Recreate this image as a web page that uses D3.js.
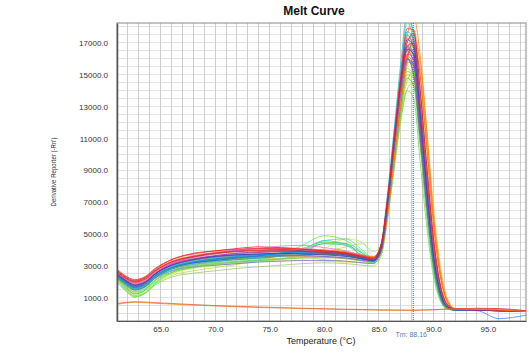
<!DOCTYPE html>
<html>
<head>
<meta charset="utf-8">
<script src="https://cdn.jsdelivr.net/npm/d3@7/dist/d3.min.js"></script>
<style>
  html, body { margin: 0; padding: 0; background: #fff; }
  svg { display: block; }
  text { font-family: "Liberation Sans", Arial, sans-serif; }
</style>
</head>
<body>
<svg id="chart" width="529" height="356"></svg>
<script>
// Temperatures (°C) at which each well's derivative reporter was sampled
const temps = [61, 62, 62.6, 63.6, 64.5, 66, 68, 70, 72, 74, 76, 78, 80, 82, 83.5, 84.5,
               85.2, 85.8, 86.4, 87, 87.6, 88.2, 88.8, 89.4, 90, 90.6, 91.2, 92, 94, 96, 98.5];

// Derivative reporter (-Rn') per well
const g1  = [2200,1500,1250,1500,2100,2700,3050,3250,3400,3500,3650,4100,4500,4400,3600,3300,3900,6300,9600,12600,14800,14300,10500,6200,2800,1000,350,230,220,200,150];
const g2  = [2000,1300,1050,1300,1900,2600,3000,3200,3300,3400,3700,4300,4900,4600,3800,3350,3700,6000,9200,12200,14000,13500,9500,5500,2400,900,320,220,210,200,160];
const g3  = [2100,1400,1150,1350,1950,2550,2900,3050,3150,3250,3400,3550,3900,4200,4400,3900,4300,6800,10000,13000,15200,15000,11000,6600,3000,1100,380,240,220,200,150];
const g4  = [2300,1700,1500,1700,2250,2850,3200,3400,3550,3600,3700,3800,3850,3700,3450,3350,4100,6900,10500,13800,16000,15500,11500,7000,3200,1200,400,240,220,200,150];
const g5  = [2250,1600,1350,1550,2100,2600,2900,3100,3250,3350,3450,3500,3550,3450,3300,3200,3800,6200,9500,12800,15000,14800,11000,6800,3100,1150,380,240,220,200,150];
const g6  = [2400,1800,1550,1750,2300,2900,3250,3450,3600,3700,3800,4000,4400,4300,3800,3400,4000,6600,10200,13600,15800,15600,11600,7100,3300,1200,400,240,220,200,150];
const g7  = [2150,1450,1100,1300,1850,2400,2700,2900,3100,3350,3500,3550,3400,3300,3200,3150,3700,6100,9300,12400,14600,15200,12200,7800,3800,1500,500,260,230,200,150];
const g8  = [2350,1750,1500,1700,2250,2800,3150,3350,3450,3550,3650,3700,3750,3650,3450,3350,4000,6700,10400,13900,16600,16300,11900,7200,3200,1150,380,240,220,200,150];
const g9  = [2300,1650,1400,1600,2150,2700,3000,3150,3250,3350,3450,3700,4600,4700,4000,3500,4200,7000,10700,14000,16000,15200,10800,6400,2900,1050,360,230,220,200,150];
const g10 = [2050,1350,1100,1300,1800,2300,2550,2700,2850,2950,3050,3150,3200,3150,3050,3000,3600,5900,9000,12000,14100,14500,11200,7000,3300,1250,420,250,220,200,150];
const y1  = [2450,1900,1700,1900,2400,2800,3050,3150,3250,3300,3350,3350,3300,3250,3200,3150,3800,6500,10000,13300,16000,16800,13800,9200,4800,2000,700,280,230,200,150];
const y2  = [2500,2000,1800,2000,2500,3050,3400,3600,3750,3850,3900,3950,3900,3800,3600,3500,4000,6400,9800,13200,15900,17200,14800,10200,5600,2500,900,300,230,200,150];
const o1  = [2600,2100,1950,2150,2650,3200,3550,3750,3900,4000,4050,4050,4000,3900,3650,3550,4100,6500,9900,13400,16300,17800,15500,11000,6200,2800,1000,320,240,210,160];
const o2  = [2550,2050,1900,2100,2550,3000,3250,3400,3500,3550,3600,3600,3550,3500,3400,3350,3800,6100,9400,12800,15600,17300,15800,11600,6800,3200,1150,340,240,210,160];
const o3  = [2700,2200,2050,2250,2750,3300,3650,3850,3950,4000,4050,4050,4000,3900,3700,3600,4300,7000,10600,14300,17400,18600,16200,11500,6300,2800,950,310,240,210,160];
const r1  = [2750,2250,2100,2300,2800,3400,3800,3950,4100,4200,4150,4050,3950,3800,3600,3500,4300,7100,10800,14400,17000,17600,14000,9300,4900,2000,700,300,350,330,200];
const r2  = [2650,2150,2000,2200,2700,3250,3600,3800,3900,3950,3950,3900,3850,3750,3550,3450,4200,7000,10700,14200,16800,17000,13200,8600,4400,1800,620,290,240,210,160];
const r3  = [2600,2100,1950,2150,2600,3100,3400,3550,3650,3700,3700,3650,3600,3500,3350,3300,4000,6700,10300,13700,16200,16600,13000,8500,4300,1750,600,280,240,210,160];
const m1  = [2700,2200,2050,2250,2700,3250,3600,3800,3950,4000,4000,3950,3900,3800,3550,3450,4300,7200,11000,14600,16500,15800,12000,7700,3800,1500,520,270,230,200,150];
const m2  = [2600,2100,1900,2100,2600,3150,3500,3750,3950,4100,4250,4300,4150,3950,3650,3450,4200,7000,10600,14000,16800,16900,12800,8200,4100,1650,560,280,240,210,160];
const m3  = [2500,2000,1800,2000,2500,3050,3400,3650,3800,3900,3950,3950,3900,3750,3500,3400,4150,6900,10500,14100,16300,16000,12200,7900,3900,1550,530,270,230,200,150];
const p1  = [2550,2050,1850,2050,2550,3100,3450,3650,3800,3850,3900,3850,3800,3700,3500,3400,4100,6900,10600,14000,16000,15000,11000,6800,3300,1250,430,250,220,200,150];
const p2  = [2450,1950,1750,1950,2500,3150,3550,3800,4000,4100,4050,3950,3800,3700,3500,3400,4200,7100,10900,14500,16700,16200,12000,7500,3600,1400,480,260,230,200,150];
const b1  = [2500,2000,1800,2000,2500,3050,3400,3600,3700,3750,3800,3750,3700,3600,3450,3350,4100,7000,10800,14600,17200,16800,12600,7900,3800,1450,500,260,230,200,150];
const b2  = [2400,1900,1700,1900,2400,2900,3200,3350,3500,3650,3800,3900,3950,3800,3500,3300,4000,6800,10500,14200,16600,16300,12300,7700,3700,1400,480,250,220,200,150];
const b3  = [2350,1850,1650,1850,2350,2900,3250,3450,3550,3600,3650,3650,3600,3500,3350,3250,3900,6600,10200,13700,16000,15700,11800,7300,3500,1300,450,240,200,-300,-80];
const b4  = [2300,1800,1600,1800,2250,2700,2950,3050,3150,3250,3300,3350,3350,3300,3200,3150,3900,6600,10200,13800,16200,15600,11500,7100,3400,1300,450,250,220,200,150];
const c1  = [2400,1850,1600,1800,2350,2950,3300,3500,3650,3700,3800,3850,3900,3800,3550,3400,4300,7500,11500,15600,18800,17500,12500,7600,3500,1300,430,250,220,200,150];
const c2  = [2350,1750,1500,1700,2250,2850,3200,3400,3550,3650,3750,4000,4600,4300,3700,3450,4300,7400,11300,15200,18300,17000,12000,7200,3300,1200,400,240,220,200,150];
const c3  = [2450,1900,1650,1850,2400,3000,3350,3550,3700,3750,3800,3800,3750,3650,3450,3350,4100,7000,10800,14700,17500,16600,12100,7400,3500,1300,440,250,220,200,150];
const k1  = [2650,2150,1950,2150,2650,3200,3600,3850,4000,4100,4150,4100,4000,3850,3600,3450,4200,7100,10900,14500,17300,17100,13000,8300,4100,1600,540,280,240,210,160];
const k2  = [2400,1850,1650,1850,2350,2900,3250,3450,3600,3700,3750,3800,3850,3750,3500,3350,4100,7000,10900,14800,17700,17200,12800,7900,3700,1400,470,250,220,200,150];
const k3  = [2250,1550,1250,1450,2000,2600,2950,3150,3300,3450,3650,3900,4400,4400,3900,3450,4000,6600,10000,13200,15400,15000,11000,6600,3000,1100,370,240,220,200,150];
const k4  = [2600,2100,1950,2150,2650,3150,3450,3600,3700,3750,3800,3800,3750,3650,3450,3350,3900,6300,9700,13100,16000,17000,15000,10600,5900,2600,900,310,240,210,160];
const k5  = [2300,1800,1550,1750,2250,2800,3100,3300,3400,3500,3600,3700,3800,3700,3450,3300,4000,6800,10600,14200,16800,16400,12000,7300,3400,1250,420,250,220,200,150];
const k6  = [2500,1950,1750,1950,2450,3000,3350,3550,3650,3700,3750,3750,3700,3600,3450,3350,4000,6800,10500,14000,16500,16100,12000,7500,3600,1350,460,250,220,200,150];
const k7  = [2200,1450,1150,1350,1900,2500,2850,3050,3200,3300,3450,3650,4100,4700,4500,3600,4000,6500,9900,13000,15200,14900,10900,6500,2900,1050,350,230,220,200,150];
const k8  = [2800,2300,2150,2350,2850,3400,3750,3950,4050,4100,4100,4050,3950,3850,3650,3550,4300,7200,11100,14900,17900,17800,14000,9200,4800,1900,650,300,260,230,170];
// no-template controls
const ntc1 = [650,730,760,740,700,650,580,520,470,430,390,350,320,290,270,260,250,250,240,240,230,230,240,250,260,280,300,330,320,290,180];
const ntc2 = [600,690,720,700,660,610,550,490,440,400,360,330,300,270,250,240,230,230,220,220,220,220,230,240,250,270,290,300,280,250,150];

// Draw order (back to front) and trace colours
const wells  = [g10, k7, g7, g2, k3, g1, y1, g3, b4, g5, g9, o2, g6, c2, g4, k6, g8, y2, k4, o1,
                c3, p1, k5, m3, r3, b2, o3, c1, p2, m2, k2, b3, k1, m1, r2, b1, k8, r1, ntc2, ntc1];
const colors = ["#99cc66","#bbee55","#bbdd33","#66dd44","#66ee99","#33cc33","#dddd44","#99e066","#7b68ee","#88cc22",
                "#66cc99","#e8a33c","#44bb77","#33cccc","#2ca02c","#cc99ff","#55aa33","#ccaa22","#cc6600","#ff9933",
                "#00a0a0","#9933cc","#3399cc","#aa4499","#ff5555","#1f4fd8","#ff7f00","#17becf","#6a3d9a","#e377c2",
                "#0099ff","#3b7dd8","#ff66cc","#cc3366","#d62728","#3333cc","#ff3333","#e41a1c",
                "#e8902a","#e06030"];

const yTicks = [1000, 3000, 5000, 7000, 9000, 11000, 13000, 15000, 17000];
const xTicks = [65, 70, 75, 80, 85, 90, 95];
const tm = 88.16;

const svg = d3.select("#chart");
const plotL = 117, plotR = 526, plotT = 23, plotB = 321;

const x = d3.scaleLinear().domain([61, 98.5]).range([plotL, plotR]);
const y = d3.scaleLinear().domain([-450, 18250]).range([plotB, plotT]);

// grid
const grid = svg.append("g");
grid.selectAll("line.h").data(d3.range(0, 18001, 500)).join("line")
  .attr("x1", plotL).attr("x2", plotR)
  .attr("y1", d => y(d)).attr("y2", d => y(d))
  .attr("stroke", "#e3e3e3").attr("stroke-width", 1).attr("shape-rendering", "crispEdges");
grid.selectAll("line.v").data(d3.range(62, 99, 1)).join("line")
  .attr("y1", plotT).attr("y2", plotB)
  .attr("x1", d => x(d)).attr("x2", d => x(d))
  .attr("stroke", "#cdcdcd").attr("stroke-width", 1).attr("shape-rendering", "crispEdges");

// frame
svg.append("rect").attr("x", plotL).attr("y", plotT).attr("width", plotR - plotL).attr("height", plotB - plotT)
  .attr("fill", "none").attr("stroke", "#9a9a9a").attr("stroke-width", 1.2);

// curves
svg.append("clipPath").attr("id", "plotclip").append("rect")
  .attr("x", plotL).attr("y", plotT).attr("width", plotR - plotL).attr("height", plotB - plotT);

const line = d3.line().x((d, i) => x(temps[i])).y(d => y(d)).curve(d3.curveMonotoneX);
svg.append("g").attr("clip-path", "url(#plotclip)")
  .selectAll("path").data(wells).join("path")
  .attr("d", line)
  .attr("fill", "none")
  .attr("stroke", (d, i) => colors[i])
  .attr("stroke-width", 0.9)
  .attr("stroke-opacity", 0.85);

// Tm marker
svg.append("line").attr("x1", x(tm)).attr("x2", x(tm)).attr("y1", plotT).attr("y2", plotB)
  .attr("stroke", "#2f5c9e").attr("stroke-width", 1).attr("stroke-dasharray", "1,1");
svg.append("text").attr("x", x(tm) - 2).attr("y", 337).attr("text-anchor", "middle")
  .attr("font-size", 7).attr("fill", "#4d7fc0").text("Tm: " + tm.toFixed(2));

// axes
const yAxis = svg.append("g").attr("transform", `translate(${plotL},0)`)
  .call(d3.axisLeft(y).tickValues(yTicks).tickFormat(d3.format(".1f")).tickSize(0).tickPadding(9));
yAxis.select(".domain").attr("stroke", "#555").attr("stroke-width", 1.5);
yAxis.selectAll("text").attr("font-size", 8).attr("fill", "#333").attr("font-family", "Liberation Sans, Arial, sans-serif");

const xAxis = svg.append("g").attr("transform", `translate(0,${plotB})`)
  .call(d3.axisBottom(x).tickValues(xTicks).tickFormat(d3.format(".1f")).tickSize(0).tickPadding(5));
xAxis.select(".domain").attr("stroke", "#555").attr("stroke-width", 1.2);
xAxis.selectAll("text").attr("font-size", 8).attr("fill", "#333").attr("font-family", "Liberation Sans, Arial, sans-serif");

// titles
svg.append("text").attr("x", 314).attr("y", 15).attr("text-anchor", "middle")
  .attr("font-size", 12).attr("font-weight", "bold").attr("fill", "#111").text("Melt Curve");
svg.append("text").attr("x", 321).attr("y", 344).attr("text-anchor", "middle")
  .attr("font-size", 9).attr("fill", "#222").text("Temperature (°C)");
svg.append("text").attr("transform", "translate(56,172) rotate(-90)").attr("text-anchor", "middle")
  .attr("font-size", 7).attr("fill", "#333").attr("textLength", 69).attr("lengthAdjust", "spacingAndGlyphs")
  .text("Derivative Reporter (-Rn')");
</script>
</body>
</html>
